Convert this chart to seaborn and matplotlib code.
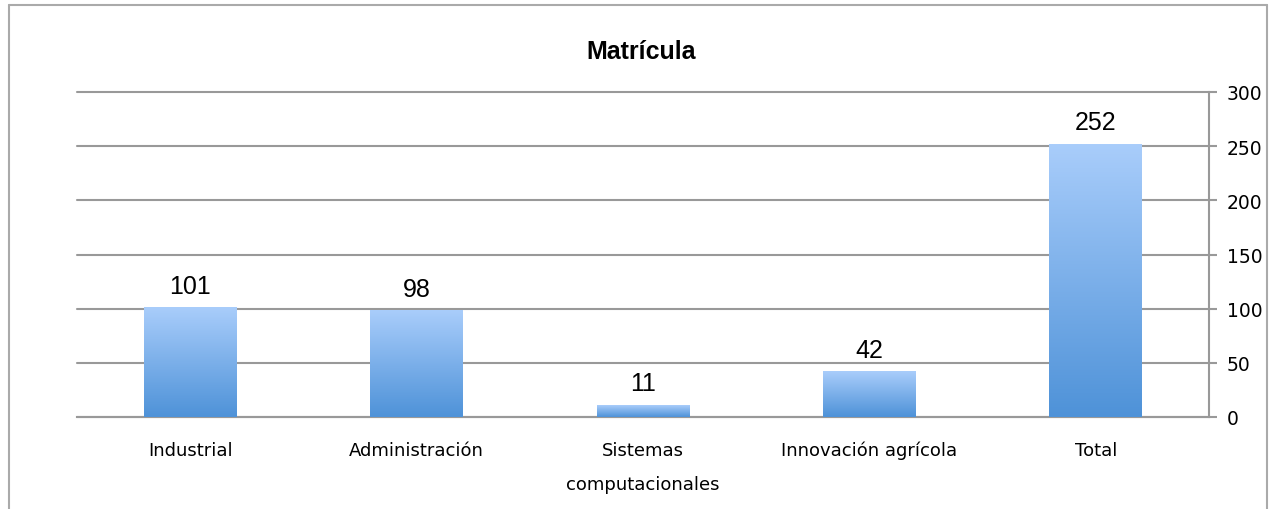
import numpy as np
import pandas as pd
import seaborn as sns
import matplotlib.pyplot as plt
from matplotlib.colors import LinearSegmentedColormap
from matplotlib.lines import Line2D

# Datos de la matrícula
carreras = ['Industrial', 'Administración', 'Sistemas\ncomputacionales',
            'Innovación agrícola', 'Total']
alumnos = [101, 98, 11, 42, 252]
yticks = [0, 50, 100, 150, 200, 250, 300]

df = pd.DataFrame({'Carrera': carreras, 'Alumnos': alumnos})

sns.set_style('white')
plt.rcParams['font.family'] = ['DejaVu Sans']
plt.rcParams['text.color'] = 'black'
plt.rcParams['xtick.color'] = 'black'
plt.rcParams['ytick.color'] = 'black'

fig = plt.figure(figsize=(12.7, 5.1), dpi=100)
ax = fig.add_axes([77 / 1270, 1 - 418 / 510, 1132 / 1270, 325 / 510])

sns.barplot(data=df, x='Carrera', y='Alumnos', ax=ax, width=0.41,
            color='#7fb0ea', saturation=1, zorder=2)

# degradado vertical en cada barra
cmap = LinearSegmentedColormap.from_list('azul', ['#4e92d8', '#a9cdfb'])
grad = np.linspace(0, 1, 256).reshape(-1, 1)
for p in ax.patches:
    x, w, h = p.get_x(), p.get_width(), p.get_height()
    ax.imshow(grad, cmap=cmap, origin='lower', aspect='auto',
              extent=[x, x + w, 0, h], zorder=3)
    p.set_facecolor('none')
    p.set_edgecolor('none')

# etiquetas de valor
for i, v in enumerate(alumnos):
    ax.text(i, v + 9, str(v), ha='center', va='bottom', fontsize=18,
            family='Liberation Sans', color='black')

ax.set_xlim(-0.5, len(carreras) - 0.5)
ax.set_ylim(0, 300)
ax.set_yticks(yticks)
ax.yaxis.tick_right()
ax.grid(axis='y', color='#999999', lw=1.5, zorder=0)
for gl in ax.get_ygridlines():
    gl.set_clip_on(False)
ax.set_axisbelow(True)

for s in ['top', 'left']:
    ax.spines[s].set_visible(False)
for s in ['bottom', 'right']:
    ax.spines[s].set_color('#999999')
    ax.spines[s].set_linewidth(1.5)

ax.tick_params(axis='y', which='major', direction='out', length=6, width=1.5,
               color='#999999', labelcolor='black', pad=7, labelsize=13.5,
               right=True, left=False)
ax.tick_params(axis='x', which='major', length=0, pad=17, labelsize=13,
               labelcolor='black')
ax.set_xticks(np.arange(-0.5, len(carreras)), minor=True)
ax.tick_params(axis='x', which='minor', direction='out', length=6, width=1.5,
               color='#999999')
for lbl in ax.get_xticklabels():
    lbl.set_verticalalignment('top')
    lbl.set_linespacing(2.2)
ax.set_xlabel('')
ax.set_ylabel('')

fig.text(641 / 1270, 1 - 52 / 510, 'Matrícula', ha='center', va='center',
         fontsize=18, fontweight='bold', color='black',
         family='Liberation Sans')

# marco del gráfico
for xs, ys in [([9, 9], [6, 510]), ([9, 1267], [6, 6]), ([1267, 1267], [6, 510])]:
    fig.add_artist(Line2D([x / 1270 for x in xs], [1 - y / 510 for y in ys],
                          color='#aaaaaa', lw=1.5))

fig.savefig('out.png', dpi=100)
